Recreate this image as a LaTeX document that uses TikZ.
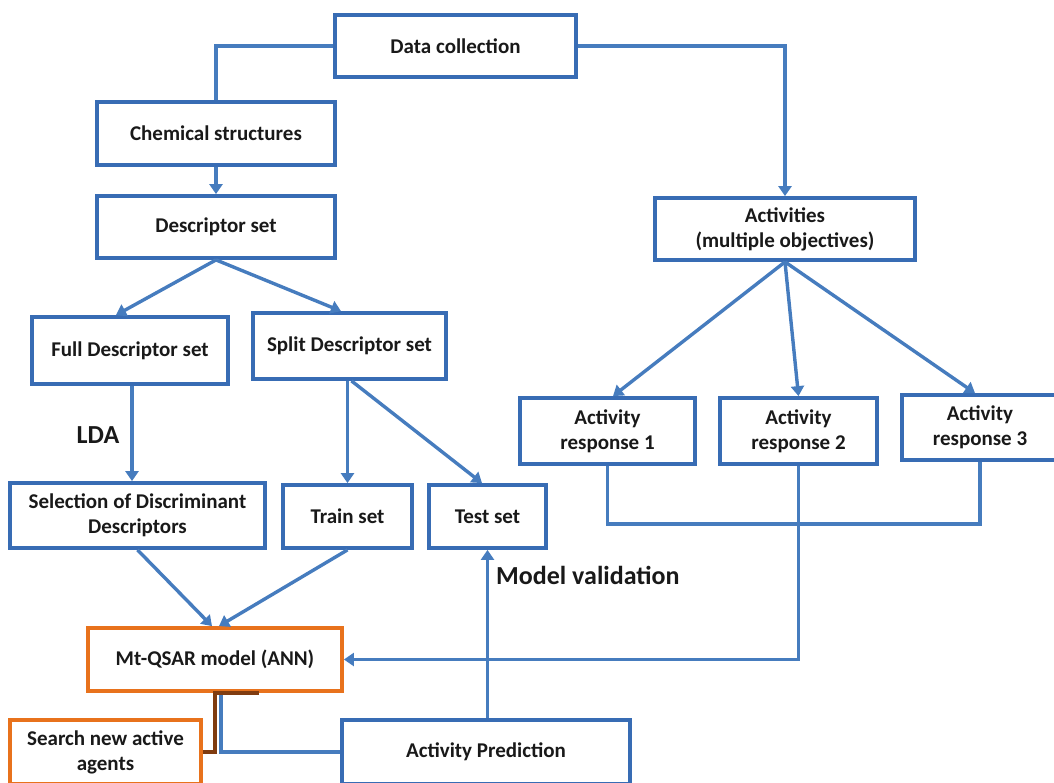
\documentclass[tikz,border=0pt]{standalone}
\usepackage{fontspec}
\setmainfont{Carlito}
\usetikzlibrary{arrows.meta,calc}

\definecolor{flowblue}{RGB}{70,124,190}
\definecolor{boxblue}{RGB}{56,108,180}
\definecolor{modelorange}{RGB}{232,114,28}
\definecolor{linkbrown}{RGB}{128,60,16}

\tikzset{
  box/.style={draw=boxblue, line width=3.8pt, fill=white, inner sep=0pt,
    align=center, font=\fontsize{21}{25}\selectfont\bfseries, text=black!90},
  orangebox/.style={box, draw=modelorange},
  flow/.style={draw=flowblue, line width=3.4pt},
  arrowflow/.style={flow, -{Triangle[width=13pt,length=10pt]}},
  biglabel/.style={font=\fontsize{26}{30}\selectfont\bfseries, text=black!90, inner sep=0pt}
}

\begin{document}
\begin{tikzpicture}[x=1pt, y=-1pt]
\useasboundingbox (0,0) rectangle (1054,782);
\clip (0,0) rectangle (1054,782);

% boxes (centre, width, height of the border line)
\node[box, minimum width=241, minimum height=62] (dc) at (455.5,46) {Data collection};
\node[box, minimum width=238, minimum height=63] (chem) at (216,133.5) {Chemical structures};
\node[box, minimum width=238, minimum height=62] (desc) at (216,227) {Descriptor set};
\node[box, minimum width=260, minimum height=62] (acts) at (785,229) {Activities\\(multiple objectives)};
\node[box, minimum width=196, minimum height=67] (full) at (130,350.5) {Full Descriptor set};
\node[box, minimum width=193, minimum height=66] (split) at (349.5,346) {Split Descriptor set};
\node[box, minimum width=255, minimum height=65] (sel) at (137.5,515.5) {Selection of Discriminant\\Descriptors};
\node[box, minimum width=129, minimum height=63] (train) at (347.5,516.5) {Train set};
\node[box, minimum width=117, minimum height=63] (test) at (487.5,516.5) {Test set};
\node[box, minimum width=175, minimum height=66] (r1) at (607.5,431) {Activity\\response 1};
\node[box, minimum width=157, minimum height=66] (r2) at (798.5,431) {Activity\\response 2};
\node[box, minimum width=156, minimum height=65] (r3) at (980,427.5) {Activity\\response 3};
\node[orangebox, minimum width=254, minimum height=63] (mt) at (215,659.5) {Mt-QSAR model (ANN)};
\node[orangebox, minimum width=191, minimum height=64] (search) at (105.5,752) {Search new active\\agents};
\node[box, minimum width=288, minimum height=64] (pred) at (486,752) {Activity Prediction};

% free labels
\node[biglabel] (lda) at (98,435) {LDA};
\node[biglabel, anchor=west] (mv) at (496,575) {Model validation};

% data collection branches
\draw[flow] (dc.west) -| (chem.north);
\draw[arrowflow] (dc.east) -| (acts.north);
\draw[arrowflow] (chem.south) -- (desc.north);

% descriptor branch
\draw[arrowflow] (desc.south) -- ($(full.north)+(-14,0)$);
\draw[arrowflow] (desc.south) -- ($(split.north)+(-8.5,0)$);
\draw[arrowflow] ($(full.south)+(2,0)$) -- ($(full.south |- sel.north)+(2,0)$);
\draw[arrowflow] (train.north |- split.south) -- (train.north);
\draw[arrowflow] ($(split.south)+(2,0)$) -- ($(test.north)+(-5.5,0)$);
\draw[arrowflow] (sel.south) -- ($(mt.north)+(-3,0)$);
\draw[arrowflow] (train.south) -- ($(mt.north)+(4,0)$);

% activity branch
\draw[arrowflow] (acts.south) -- ($(r1.north)+(5.5,0)$);
\draw[arrowflow] (acts.south) -- (r2.north);
\draw[arrowflow] (acts.south) -- ($(r3.north)+(-5,0)$);
\draw[flow] (r1.south) -- ++(0,58) -| (r3.south);
\draw[arrowflow] (r2.south) |- (mt.east);

% validation and prediction
\draw[arrowflow] (test.south |- pred.north) -- (test.south);
\draw[flow] ($(mt.south)+(6,0)$) |- (pred.west);
\draw[draw=linkbrown, line width=3.4pt] ($(mt.south)+(44,0)$) -- (mt.south) |- (search.east);
\end{tikzpicture}
\end{document}
